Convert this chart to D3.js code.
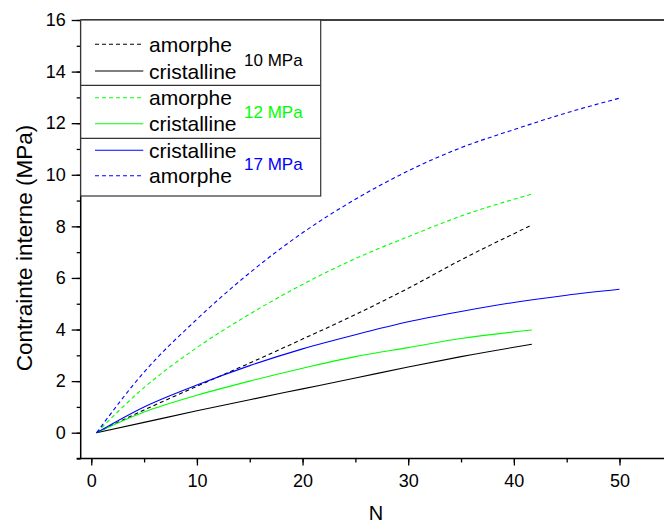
<!DOCTYPE html>
<html>
<head>
<meta charset="utf-8">
<script src="https://cdn.jsdelivr.net/npm/d3@7"></script>
<style>
  html, body { margin: 0; padding: 0; background: #fff; }
  svg { display: block; font-family: "Liberation Sans", Arial, sans-serif; }
</style>
</head>
<body>
<svg id="chart" width="664" height="524"></svg>
<script>
// ---- data ----
const nShort = [0.5, 5, 10, 15, 20, 25, 30, 35, 41.7];
const nLong = [0.5, 5, 10, 15, 20, 25, 30, 35, 40, 45, 50];

const amorphe10 = [0, 0.88, 1.8, 2.7, 3.63, 4.58, 5.6, 6.7, 8.05];
const cristalline10 = [0, 0.4, 0.85, 1.28, 1.7, 2.12, 2.55, 2.95, 3.43];
const amorphe12 = [0, 1.75, 3.3, 4.6, 5.75, 6.75, 7.6, 8.4, 9.25];
const cristalline12 = [0, 0.8, 1.45, 2.0, 2.5, 2.95, 3.3, 3.65, 3.98];
const cristalline17 = [0, 1.0, 1.85, 2.6, 3.25, 3.8, 4.3, 4.7, 5.05, 5.33, 5.56];
const amorphe17 = [0, 2.35, 4.4, 6.2, 7.75, 9.05, 10.15, 11.05, 11.75, 12.4, 12.97];

const xTicks = [0, 10, 20, 30, 40, 50];
const yTicks = [0, 2, 4, 6, 8, 10, 12, 14, 16];

const series = [
  { name: "amorphe", n: nShort, v: amorphe10, color: "#000000", dashed: true },
  { name: "cristalline", n: nShort, v: cristalline10, color: "#000000", dashed: false },
  { name: "amorphe", n: nShort, v: amorphe12, color: "#00ff00", dashed: true },
  { name: "cristalline", n: nShort, v: cristalline12, color: "#00ff00", dashed: false },
  { name: "cristalline", n: nLong, v: cristalline17, color: "#0000ff", dashed: false },
  { name: "amorphe", n: nLong, v: amorphe17, color: "#0000ff", dashed: true }
];
const groups = [
  { label: "10 MPa", color: "#000000" },
  { label: "12 MPa", color: "#00ff00" },
  { label: "17 MPa", color: "#0000ff" }
];

// ---- layout ----
const svg = d3.select("#chart");
const plotLeft = 80.7, plotTop = 20, plotBottom = 458.5;
const x = d3.scaleLinear().domain([-1, 55]).range([plotLeft, plotLeft + 56 * 10.565]);
const y = d3.scaleLinear().domain([-1, 16]).range([plotBottom, plotTop]);

// curves
const line = d3.line().x(d => x(d[0])).y(d => y(d[1])).curve(d3.curveMonotoneX);
series.forEach(s => {
  const pts = s.n.map((n, i) => [n, s.v[i]]);
  svg.append("path")
    .attr("d", line(pts))
    .attr("fill", "none")
    .attr("stroke", s.color)
    .attr("stroke-width", 1.1)
    .attr("stroke-dasharray", s.dashed ? "4,3" : null);
});

// axes
const xAxis = svg.append("g").attr("transform", `translate(0,${plotBottom})`);
xAxis.call(d3.axisBottom(x).tickValues(d3.range(0, 55, 5)).tickSize(4).tickFormat(""))
  .call(g => g.select(".domain").remove());
xAxis.append("g").call(d3.axisBottom(x).tickValues(xTicks).tickSize(7).tickPadding(9).tickFormat(d3.format("d")))
  .call(g => g.select(".domain").remove())
  .call(g => g.selectAll("text").attr("font-size", 18).attr("fill", "#000").attr("font-family", "Liberation Sans, Arial, sans-serif"));
xAxis.selectAll("line").attr("stroke", "#000").attr("stroke-width", 1.3);
svg.append("line").attr("x1", plotLeft - 4).attr("x2", 664).attr("y1", plotBottom).attr("y2", plotBottom)
  .attr("stroke", "#000").attr("stroke-width", 1.5);

const yAxis = svg.append("g").attr("transform", `translate(${plotLeft},0)`);
yAxis.call(d3.axisLeft(y).tickValues(d3.range(-1, 16.5, 1)).tickSize(4).tickFormat(""))
  .call(g => g.select(".domain").remove());
yAxis.append("g").call(d3.axisLeft(y).tickValues(yTicks).tickSize(9).tickPadding(6).tickFormat(d3.format("d")))
  .call(g => g.select(".domain").remove())
  .call(g => g.selectAll("text").attr("font-size", 18).attr("fill", "#000").attr("font-family", "Liberation Sans, Arial, sans-serif"));
yAxis.selectAll("line").attr("stroke", "#000").attr("stroke-width", 1.3);
svg.append("line").attr("x1", plotLeft).attr("x2", plotLeft).attr("y1", plotTop).attr("y2", plotBottom)
  .attr("stroke", "#000").attr("stroke-width", 1.5);
// top border
svg.append("line").attr("x1", plotLeft).attr("x2", 664).attr("y1", plotTop).attr("y2", plotTop)
  .attr("stroke", "#000").attr("stroke-width", 1.3);

// axis titles
svg.append("text").attr("x", 376).attr("y", 520).attr("text-anchor", "middle")
  .attr("font-size", 20).attr("fill", "#000").text("N");
svg.append("text").attr("transform", "translate(32,248) rotate(-90)").attr("text-anchor", "middle")
  .attr("font-size", 22.5).attr("fill", "#000").text("Contrainte interne (MPa)");

// legend
const lg = svg.append("g");
lg.append("rect").attr("x", plotLeft).attr("y", plotTop).attr("width", 320.7 - plotLeft).attr("height", 196 - plotTop)
  .attr("fill", "#fff").attr("stroke", "#333").attr("stroke-width", 1.2);
[85.3, 138.3].forEach(yy => lg.append("line").attr("x1", plotLeft).attr("x2", 320.7)
  .attr("y1", yy).attr("y2", yy).attr("stroke", "#333").attr("stroke-width", 1.2));
const rowY = [44.3, 71, 97.7, 123.7, 150.3, 175.7];
series.forEach((s, i) => {
  lg.append("line").attr("x1", 95).attr("x2", 143.3).attr("y1", rowY[i]).attr("y2", rowY[i])
    .attr("stroke", s.color).attr("stroke-width", 1.1)
    .attr("stroke-dasharray", s.dashed ? "4,3" : null);
  lg.append("text").attr("x", 149).attr("y", rowY[i] + 7.5).attr("font-size", 21)
    .attr("fill", "#000").text(s.name);
});
const groupY = [60, 111.7, 164.3];
groups.forEach((g, i) => {
  lg.append("text").attr("x", 244).attr("y", groupY[i] + 6).attr("font-size", 17)
    .attr("fill", g.color).text(g.label);
});
</script>
</body>
</html>
